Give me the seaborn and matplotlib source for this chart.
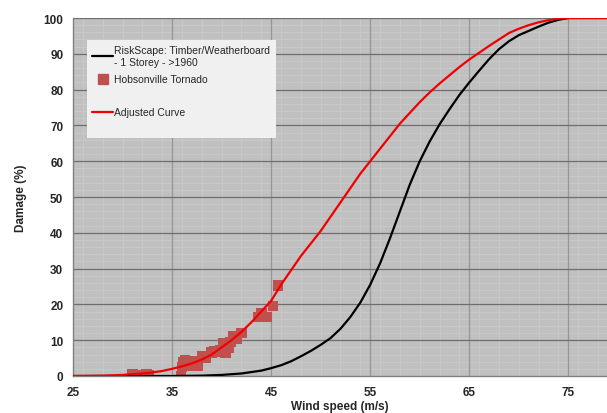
import numpy as np
import pandas as pd
import matplotlib
matplotlib.use('Agg')
import matplotlib.pyplot as plt
import seaborn as sns
from matplotlib.ticker import MultipleLocator, FixedLocator
from matplotlib.lines import Line2D

# RiskScape fragility curve
riskscape_wind = [25, 35, 38, 40, 42, 44, 45, 46, 47, 48, 49, 50, 51, 52, 53, 54, 55, 56, 57, 58,
                  59, 60, 61, 62, 63, 64, 65, 66, 67, 68, 69, 70, 71, 72, 73, 74, 75, 79]
riskscape_damage = [0, 0, 0.1, 0.3, 0.7, 1.5, 2.2, 3, 4.1, 5.5, 7, 8.7, 10.6, 13.2, 16.5, 20.5, 25.5, 31.5, 38.5, 46,
                    53.5, 60, 65.5, 70.3, 74.5, 78.5, 82, 85.3, 88.5, 91.3, 93.5, 95.2, 96.4, 97.6, 98.7, 99.5, 100, 100]

# adjusted curve
adjusted_wind = [25, 28, 30, 32, 33, 34, 35, 36, 37, 38, 39, 40, 41, 42, 43, 44, 45, 46, 47, 48, 49, 50,
                 51, 52, 53, 54, 55, 56, 57, 58, 59, 60, 61, 62, 63, 64, 65, 66, 67, 68, 69, 70,
                 71, 72, 73, 74, 75, 79]
adjusted_damage = [0, 0.1, 0.3, 0.7, 1, 1.4, 2, 2.7, 3.5, 4.6, 6, 8, 10, 12.3, 15, 18, 21, 25.5, 29.5, 33.5, 37, 40.5,
                   44.5, 48.5, 52.5, 56.5, 60, 63.5, 67, 70.5, 73.5, 76.5, 79.2, 81.7, 84, 86.3, 88.4, 90.3, 92.2, 94, 95.8, 97,
                   98, 98.8, 99.4, 99.8, 100, 100]

# Hobsonville tornado observations
tornado_wind = [31.0, 31.7, 32.4, 32.6, 35.9, 36.0, 36.1, 36.3, 36.6, 37.1, 37.6, 38.0, 38.4, 39.0,
                39.3, 39.9, 40.2, 40.4, 40.7, 40.9, 41.2, 41.5, 42.0, 43.7, 44.0, 44.6, 45.2, 45.7]
tornado_damage = [0.5, 0.3, 0.6, 0.2, 0.0, 2.5, 3.8, 4.3, 3.0, 4.2, 3.0, 5.5, 5.0, 6.5,
                  6.8, 7.2, 9.0, 6.5, 8.0, 9.5, 11.0, 10.5, 12.0, 16.5, 17.5, 16.5, 19.5, 25.3]

x_major = [25, 35, 45, 55, 65, 75]

sns.set_style('white')
plt.rcParams['font.family'] = ['Liberation Sans', 'DejaVu Sans']

fig = plt.figure(figsize=(6.07, 4.14), dpi=100)
ax = fig.add_axes([73 / 607, 1 - 377 / 414, 1 - 73 / 607, (377 - 19) / 414])
ax.set_facecolor('#c0c0c0')

sns.lineplot(x=riskscape_wind, y=riskscape_damage, color='black', linewidth=1.6, ax=ax, zorder=4)
sns.lineplot(x=adjusted_wind, y=adjusted_damage, color='#f00000', linewidth=1.6, ax=ax, zorder=5)
sns.scatterplot(x=tornado_wind, y=tornado_damage, marker='s', s=58, color='#c0504d',
                edgecolor='none', ax=ax, zorder=3)

ax.set_xlim(25, 78.9)
ax.set_ylim(0, 100)
ax.xaxis.set_major_locator(FixedLocator(x_major))
ax.xaxis.set_minor_locator(MultipleLocator(2))
ax.yaxis.set_major_locator(MultipleLocator(10))
ax.yaxis.set_minor_locator(MultipleLocator(2))

# faint minor grid below, solid major lines on top of it
ax.set_axisbelow(True)
ax.grid(which='minor', axis='both', color='#cacaca', linewidth=0.6)
ax.grid(which='major', visible=False)
for xv in x_major[1:]:
    ax.axvline(xv, color='#969696', linewidth=0.9, zorder=1)
for yv in range(10, 101, 10):
    ax.axhline(yv, color='#6e6e6e', linewidth=0.9, zorder=1)

for side in ['top', 'right']:
    ax.spines[side].set_visible(False)
for side in ['left', 'bottom']:
    ax.spines[side].set_color('#808080')
    ax.spines[side].set_linewidth(1.0)

ax.tick_params(axis='both', which='major', direction='out', length=4, width=0.8, color='#808080',
               labelsize=8.5, pad=3)
ax.tick_params(axis='both', which='minor', length=0)
for lbl in ax.get_xticklabels() + ax.get_yticklabels():
    lbl.set_fontweight('bold')

ax.set_xlabel('Wind speed (m/s)', fontsize=8.5, fontweight='bold', labelpad=2)
ax.set_ylabel('Damage (%)', fontsize=8.5, fontweight='bold', labelpad=12)

# blank rows reproduce the uneven spacing of the original Excel legend
blank = Line2D([], [], linestyle='none')
handles = [
    Line2D([0], [0], color='black', linewidth=1.6),
    Line2D([0], [0], marker='s', linestyle='none', markersize=7, color='#c0504d'),
    blank,
    Line2D([0], [0], color='#f00000', linewidth=1.6),
    blank,
]
labels = ['RiskScape: Timber/Weatherboard\n- 1 Storey - >1960', 'Hobsonville Tornado', ' ',
          'Adjusted Curve', ' ']
leg = ax.legend(handles, labels, loc='upper left', bbox_to_anchor=(0.026, 0.939), fontsize=7.5,
                frameon=True, fancybox=False, facecolor='#f0f0f0', edgecolor='none', framealpha=1,
                handlelength=2.0, handletextpad=0.15, labelspacing=0.72, borderpad=0.5,
                borderaxespad=0)
leg.get_texts()[2].set_fontsize(2)
leg.get_texts()[-1].set_fontsize(2)
leg.set_zorder(10)

fig.savefig('out.png', dpi=100)
